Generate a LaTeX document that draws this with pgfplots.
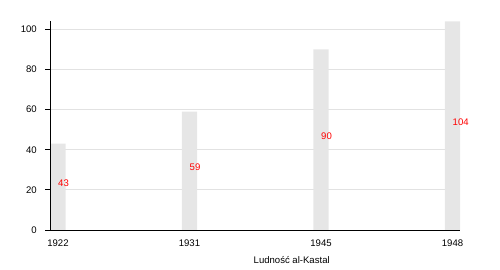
\documentclass[border=0pt]{standalone}
\usepackage{pgfplots}
\pgfplotsset{compat=1.18}
\usepackage{fontspec}
\setmainfont{Liberation Sans}
\definecolor{barc}{HTML}{E6E6E6}
\definecolor{gridc}{HTML}{E2E2E2}
\pgfplotsset{
  layers/mylayers/.define layer set={
    axis background,axis grid,pre main,main,axis ticks,axis lines,axis tick labels,axis descriptions,axis foreground
  }{
    grid style={/pgfplots/on layer=axis grid},
    tick style={/pgfplots/on layer=axis ticks},
    axis line style={/pgfplots/on layer=axis lines},
    label style={/pgfplots/on layer=axis descriptions},
    legend style={/pgfplots/on layer=axis descriptions},
    title style={/pgfplots/on layer=axis descriptions},
    colorbar style={/pgfplots/on layer=axis descriptions},
    ticklabel style={/pgfplots/on layer=axis tick labels},
    axis background@ style={/pgfplots/on layer=axis background},
    3d box foreground style={/pgfplots/on layer=axis foreground},
  },
}
\begin{document}
\begin{tikzpicture}
\begin{axis}[
  set layers=mylayers,
  at={(0,0)}, anchor=south west,
  scale only axis, width=409.5bp, height=208.7bp,
  xmin=-0.057, xmax=3.057, ymin=0, ymax=104,
  axis x line*=bottom, axis y line*=left,
  axis line style={line width=1bp, black},
  xtick={0,1,2,3}, xticklabels={1922,1931,1945,1948},
  xtick style={draw=none},
  ytick={0,20,40,60,80,100},
  ytick style={line width=0.8bp, black},
  tick align=outside, major tick length=5bp,
  ymajorgrids, grid style={gridc, line width=0.8bp},
  /pgf/number format/assume math mode=true,
  ticklabel style={font=\fontsize{9.6}{11}\selectfont, inner sep=0pt},
  xticklabel style={anchor=base, yshift=-11.5bp},
  yticklabel style={anchor=east, xshift=-8.5bp},
  xlabel={Ludność al-Kastal},
  x label style={at={(axis description cs:0.589,0)}, anchor=base, yshift=-33bp, inner sep=0pt, font=\fontsize{9.6}{11}\selectfont},
  clip=false,
]
\addplot[ybar, bar width=15.3bp, fill=barc, draw=none] coordinates {(0,43) (1,59) (2,90) (3,104)};
\addplot[draw=none, mark=none, nodes near coords, point meta=explicit symbolic,
  nodes near coords style={anchor=base west, inner sep=0pt, text=red, font=\fontsize{9.6}{11}\selectfont}]
  coordinates {(0,21.5)[43] (1,29.5)[59] (2,45)[90] (3,52)[104]};
\end{axis}
\pgfresetboundingbox
\useasboundingbox (-50.5bp,-40bp) rectangle (449.5bp,230bp);
\end{tikzpicture}
\end{document}
